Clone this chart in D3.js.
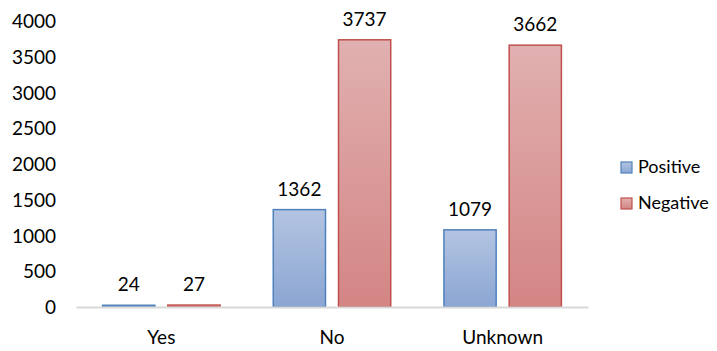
<!DOCTYPE html>
<html>
<head>
<meta charset="utf-8">
<script src="https://cdn.jsdelivr.net/npm/d3@7"></script>
<style>
  html, body { margin: 0; padding: 0; background: #fff; }
  svg text { font-family: Lato, "Open Sans", sans-serif; fill: #000; }
</style>
</head>
<body>
<svg id="chart" width="717" height="351"></svg>
<script>
// Chart data
const categories = ["Yes", "No", "Unknown"];
const seriesNames = ["Positive", "Negative"];
const positiveValues = [24, 1362, 1079];
const negativeValues = [27, 3737, 3662];
const yTicks = [0, 500, 1000, 1500, 2000, 2500, 3000, 3500, 4000];

const seriesValues = [positiveValues, negativeValues];
const colors = [
  { top: "#b3c4e1", bottom: "#8ba6d3", stroke: "#4f81bd" },
  { top: "#e1b0b0", bottom: "#d38584", stroke: "#c0504d" }
];

const svg = d3.select("#chart");
const margin = { left: 76, right: 129, top: 21, bottom: 44 };
const width = 717, height = 351;
const plotRight = width - margin.right;
const plotBottom = height - margin.bottom;

const x = d3.scaleBand().domain(categories).range([margin.left, plotRight]).paddingInner(0).paddingOuter(0);
const xInner = d3.scaleBand().domain(seriesNames).range([0, x.bandwidth()]).paddingInner(0.184).paddingOuter(0.4);
const y = d3.scaleLinear().domain([0, 4000]).range([plotBottom, margin.top]);

// Vertical gradients for bar fills
const defs = svg.append("defs");
colors.forEach((c, i) => {
  const g = defs.append("linearGradient").attr("id", "grad" + i)
    .attr("x1", 0).attr("y1", 0).attr("x2", 0).attr("y2", 1);
  g.append("stop").attr("offset", "0%").attr("stop-color", c.top);
  g.append("stop").attr("offset", "100%").attr("stop-color", c.bottom);
});

// Y axis labels
const yAxis = d3.axisLeft(y).tickValues(yTicks).tickFormat(d3.format("d")).tickSize(0).tickPadding(0);
const yg = svg.append("g").attr("transform", `translate(${margin.left - 20},0)`).call(yAxis);
yg.select(".domain").remove();
yg.selectAll("text").style("font-size", "19px").attr("dy", "0.35em").style("fill", "#000");

// Bars
const rows = categories.map((c, i) => ({ cat: c, vals: seriesValues.map((s, j) => ({ name: seriesNames[j], idx: j, v: s[i] })) }));
const groups = svg.append("g").selectAll("g").data(rows).join("g")
  .attr("transform", d => `translate(${x(d.cat)},0)`);

groups.selectAll("rect").data(d => d.vals).join("rect")
  .attr("x", d => xInner(d.name) + 0.5)
  .attr("y", d => y(d.v))
  .attr("width", xInner.bandwidth() - 1)
  .attr("height", d => y(0) - y(d.v))
  .attr("fill", d => `url(#grad${d.idx})`)
  .attr("stroke", d => colors[d.idx].stroke)
  .attr("stroke-width", 1.5);

groups.selectAll("text.val").data(d => d.vals).join("text")
  .attr("class", "val")
  .attr("x", d => xInner(d.name) + xInner.bandwidth() / 2)
  .attr("y", d => y(d.v) - 14)
  .attr("text-anchor", "middle")
  .style("font-size", "19px")
  .text(d => d.v);

// X axis line and labels
const xAxis = d3.axisBottom(x).tickSize(0).tickPadding(0);
const xg = svg.append("g").attr("transform", `translate(0,${plotBottom})`).call(xAxis);
xg.select(".domain").attr("stroke", "#d9d9d9").attr("stroke-width", 2);
xg.selectAll("text").style("font-size", "19px").attr("y", 37).attr("dy", 0).style("fill", "#000");

// Legend
const legend = svg.append("g").attr("transform", "translate(621,162)");
seriesNames.forEach((name, i) => {
  const row = legend.append("g").attr("transform", `translate(0,${i * 36})`);
  row.append("rect").attr("width", 11).attr("height", 11)
    .attr("fill", `url(#grad${i})`).attr("stroke", colors[i].stroke).attr("stroke-width", 1.2);
  row.append("text").attr("x", 17).attr("y", 11).style("font-size", "18px").text(name);
});
</script>
</body>
</html>
